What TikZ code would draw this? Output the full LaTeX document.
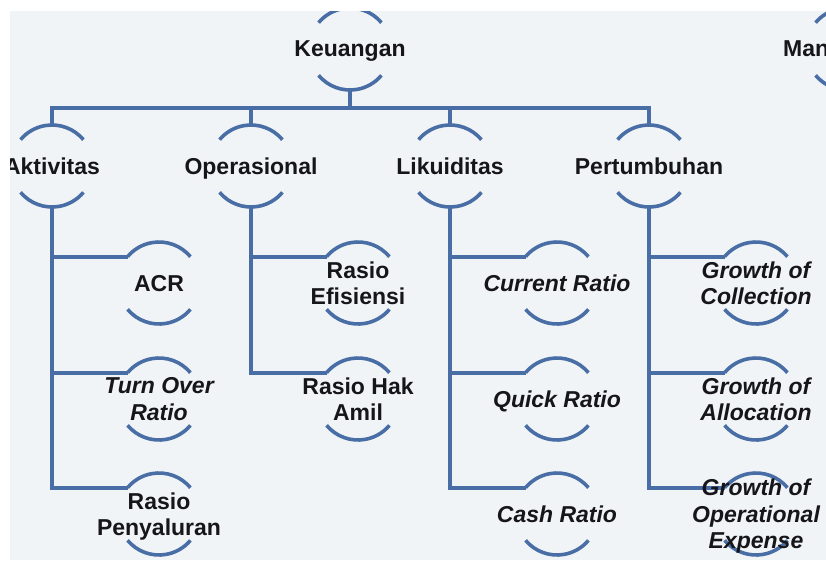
\documentclass[tikz,border=0pt]{standalone}
\usepackage{fontspec}
\setmainfont{Liberation Sans}
\usepackage{tikz}
\usetikzlibrary{calc}
\definecolor{bleu}{RGB}{72,110,165}
\definecolor{fond}{RGB}{241,244,247}
\definecolor{encre}{RGB}{22,22,26}

% deux arcs autour d'un centre + points d'accroche
\newcommand{\bulle}[1]{%
  \draw[arcbleu] ($(#1)+(40:41)$) arc (40:140:41);
  \draw[arcbleu] ($(#1)+(220:41)$) arc (220:320:41);
  \coordinate (#1-n) at ($(#1)+(0,41)$);
  \coordinate (#1-s) at ($(#1)+(0,-41)$);
  \coordinate (#1-g) at ($(#1)+(140:41)$);}

\begin{document}
\begin{tikzpicture}[x=1pt, y=1pt,
  lien/.style={bleu, line width=4pt},
  arcbleu/.style={bleu, line width=3.6pt},
  titre/.style={encre, inner sep=0pt, align=center, text depth=0pt,
    font=\fontsize{23}{26.5}\selectfont\bfseries},
  ratio/.style={titre, font=\fontsize{23}{26.5}\selectfont\bfseries\itshape}]

  % FOND
  \path[use as bounding box, fill=white] (0,0) rectangle (826,-560);
  \fill[fond] (10,-11) rectangle (826,-560);
  \clip (10,-11) rectangle (826,-560);

  % NIVEAU 1
  \coordinate (keu) at (350,-49);
  \coordinate (man) at (847,-49);

  % NIVEAU 2
  \coordinate (akt) at (52,-166);
  \coordinate (ope) at (251,-166);
  \coordinate (lik) at (450,-166);
  \coordinate (per) at (649,-166);

  % NIVEAU 3
  \coordinate (acr) at (159,-283);
  \coordinate (tor) at (159,-399);
  \coordinate (pen) at (159,-514);
  \coordinate (efi) at (358,-283);
  \coordinate (ham) at (358,-399);
  \coordinate (cur) at (557,-283);
  \coordinate (qui) at (557,-399);
  \coordinate (cas) at (557,-514);
  \coordinate (col) at (756,-283);
  \coordinate (all) at (756,-399);
  \coordinate (opx) at (756,-514);

  % ARCS
  \bulle{keu} \bulle{man}
  \bulle{akt} \bulle{ope} \bulle{lik} \bulle{per}
  \bulle{acr} \bulle{tor} \bulle{pen}
  \bulle{efi} \bulle{ham}
  \bulle{cur} \bulle{qui} \bulle{cas}
  \bulle{col} \bulle{all} \bulle{opx}

  % LIENS NIVEAU 1 -> 2
  \coordinate (bus) at (350,-108);
  \draw[lien] (keu-s) -- (bus);
  \draw[lien] (akt-n) |- (bus) -| (per-n);
  \draw[lien] (ope-n) -- (ope-n |- bus);
  \draw[lien] (lik-n) -- (lik-n |- bus);

  % LIENS NIVEAU 2 -> 3
  \draw[lien] (akt-s) |- (pen-g);
  \draw[lien] (akt-s |- acr-g) -- (acr-g);
  \draw[lien] (akt-s |- tor-g) -- (tor-g);
  \draw[lien] (ope-s) |- (ham-g);
  \draw[lien] (ope-s |- efi-g) -- (efi-g);
  \draw[lien] (lik-s) |- (cas-g);
  \draw[lien] (lik-s |- cur-g) -- (cur-g);
  \draw[lien] (lik-s |- qui-g) -- (qui-g);
  \draw[lien] (per-s) |- (opx-g);
  \draw[lien] (per-s |- col-g) -- (col-g);
  \draw[lien] (per-s |- all-g) -- (all-g);

  % TEXTES
  \node[titre] (keu-t) at (keu) {Keuangan};
  \node[titre, anchor=west] (man-t) at (783,-49) {Man};
  \node[titre] (akt-t) at (akt) {Aktivitas};
  \node[titre] (ope-t) at (ope) {Operasional};
  \node[titre] (lik-t) at (lik) {Likuiditas};
  \node[titre] (per-t) at (per) {Pertumbuhan};
  \node[titre] (acr-t) at (acr) {ACR};
  \node[ratio] (tor-t) at (tor) {Turn Over\\Ratio};
  \node[titre] (pen-t) at (pen) {Rasio\\Penyaluran};
  \node[titre] (efi-t) at (efi) {Rasio\\Efisiensi};
  \node[titre] (ham-t) at (ham) {Rasio Hak\\Amil};
  \node[ratio] (cur-t) at (cur) {Current Ratio};
  \node[ratio] (qui-t) at (qui) {Quick Ratio};
  \node[ratio] (cas-t) at (cas) {Cash Ratio};
  \node[ratio] (col-t) at (col) {Growth of\\Collection};
  \node[ratio] (all-t) at (all) {Growth of\\Allocation};
  \node[ratio] (opx-t) at (opx) {Growth of\\Operational\\Expense};
\end{tikzpicture}
\end{document}
